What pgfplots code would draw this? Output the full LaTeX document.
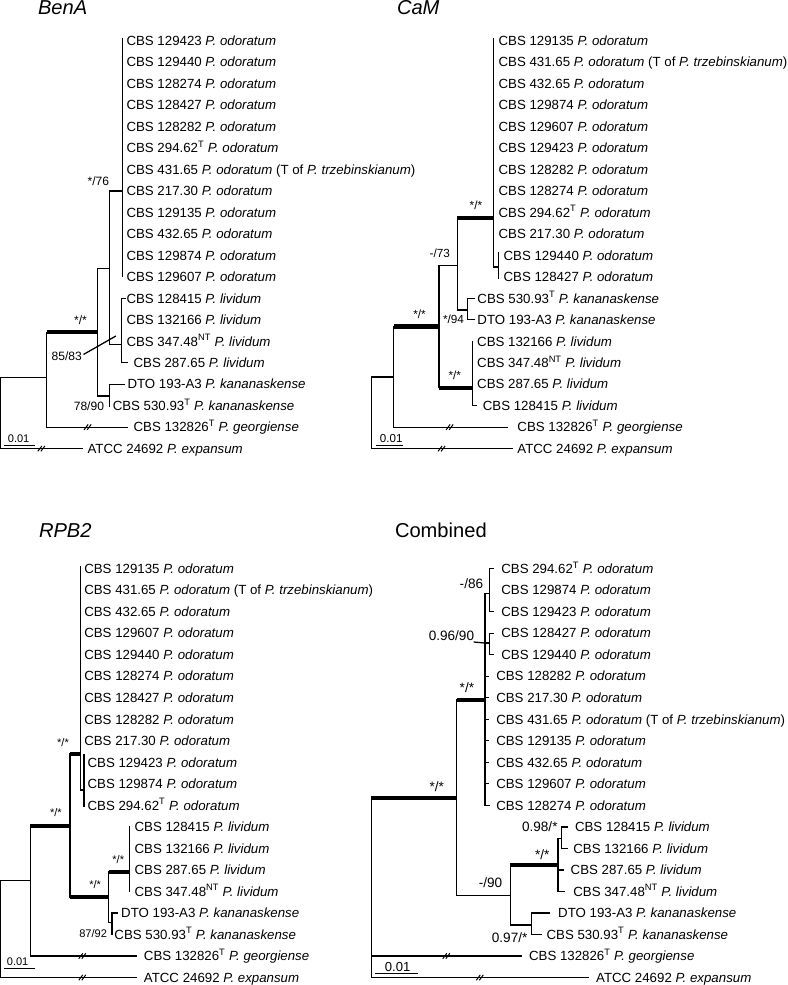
\documentclass[border=0pt]{standalone}
\usepackage{fontspec}
\setmainfont{Liberation Sans}
\usepackage{pgfplots}
\pgfplotsset{compat=1.18}
\newcommand{\tf}{\fontsize{13.2bp}{15bp}\selectfont}
\newcommand{\Pod}{\textit{P. odoratum}}
\newcommand{\Pli}{\textit{P. lividum}}
\newcommand{\Pka}{\textit{P. kananaskense}}
\newcommand{\Pge}{\textit{P. georgiense}}
\newcommand{\Pex}{\textit{P. expansum}}
\newcommand{\Ptr}{(T of \textit{P. trzebinskianum})}
\newcommand{\sT}{\textsuperscript{T}}
\newcommand{\sNT}{\textsuperscript{NT}}
\newcommand{\tx}[3]{\node[anchor=base west,inner sep=0pt,font=\tf] at (axis cs:#1,#2) {#3};}
\newcommand{\lb}[4]{\node[anchor=base east,inner sep=0pt,font=\fontsize{#4}{#4}\selectfont] at (axis cs:#1,#2) {#3};}
\newcommand{\ttl}[3]{\node[anchor=base west,inner sep=0pt,font=\fontsize{20bp}{22bp}\selectfont] at (axis cs:#1,#2) {#3};}
\pgfplotsset{
  br/.style={black, line width=1.25bp, mark=none, unbounded coords=jump, line cap=rect, line join=miter},
  tk/.style={black, line width=4.2bp, mark=none},
  bk/.style={black, line width=1bp, mark=none, unbounded coords=jump},
}
\begin{document}
\begin{tikzpicture}
\begin{axis}[scale only axis, width=786bp, height=985bp,
  xmin=0, xmax=786, ymin=0, ymax=985, y dir=reverse,
  hide axis, clip=false]
%%%%%%%%%%%%%%%% BenA
\ttl{39}{18.5}{\textit{BenA}}
\addplot[br] coordinates {(123.3,43) (123.3,279.85)};
\addplot[br] coordinates {(110,194.45) (123.3,194.45)};
\addplot[br] coordinates {(98.3,271.7) (110,271.7)};
\addplot[br] coordinates {(110,194.45) (110,347.3) (122.3,347.3)};
\addplot[br] coordinates {(126,301.2) (122.3,301.2) (122.3,365.25) (128,365.25)};
\addplot[br] coordinates {(98.3,271.7) (98.3,398.3) (110,398.3)};
\addplot[br] coordinates {(125,386.6) (110,386.6) (110,409)};
\addplot[tk] coordinates {(47.7,335) (98.3,335)};
\addplot[br] coordinates {(47.7,335) (47.7,429.3) (128,429.3)};
\addplot[br] coordinates {(47.7,380) (2,380) (2,450.65) (83,450.65)};
\addplot[br] coordinates {(6,447.5) (36,447.5)};
\addplot[br] coordinates {(85,356.7) (116,339)};
\addplot[bk] coordinates {(85,432) (89,426.6) (nan,nan) (88,432) (92,426.6)};
\addplot[bk] coordinates {(39,453.3) (43,448) (nan,nan) (42,453.3) (46,448)};
\lb{110}{189}{*/76}{12bp}
\lb{88}{327}{*/*}{12bp}
\lb{83}{363.3}{85/83}{12bp}
\lb{105}{412.3}{78/90}{12bp}
\node[anchor=base west,inner sep=0pt,font=\fontsize{11bp}{11bp}\selectfont] at (axis cs:9,445) {0.01};
\tx{127}{49.7}{CBS 129423 \Pod}
\tx{127}{71.1}{CBS 129440 \Pod}
\tx{127}{92.4}{CBS 128274 \Pod}
\tx{127}{113.8}{CBS 128427 \Pod}
\tx{127}{135.1}{CBS 128282 \Pod}
\tx{127}{156.5}{CBS 294.62\sT{} \Pod}
\tx{127}{177.8}{CBS 431.65 \Pod{} \Ptr}
\tx{127}{199.2}{CBS 217.30 \Pod}
\tx{127}{220.5}{CBS 129135 \Pod}
\tx{127}{241.9}{CBS 432.65 \Pod}
\tx{127}{263.2}{CBS 129874 \Pod}
\tx{127}{284.6}{CBS 129607 \Pod}
\tx{127}{305.9}{CBS 128415 \Pli}
\tx{127}{327.3}{CBS 132166 \Pli}
\tx{127}{348.6}{CBS 347.48\sNT{} \Pli}
\tx{134}{370.0}{CBS 287.65 \Pli}
\tx{128}{391.3}{DTO 193-A3 \Pka}
\tx{113.3}{412.7}{CBS 530.93\sT{} \Pka}
\tx{134}{434.0}{CBS 132826\sT{} \Pge}
\tx{88.3}{455.4}{ATCC 24692 \Pex}
%%%%%%%%%%%%%%%% CaM
\ttl{396}{18.5}{\textit{CaM}}
\addplot[br] coordinates {(492,43) (492,270) (497.3,270)};
\addplot[br] coordinates {(497.3,256) (497.3,281.5)};
\addplot[tk] coordinates {(456.3,221.7) (492,221.7)};
\addplot[br] coordinates {(456.3,221.7) (456.3,312.7) (466.3,312.7)};
\addplot[br] coordinates {(473,301.2) (466.3,301.2) (466.3,322.55) (473,322.55)};
\addplot[br] coordinates {(438,268.3) (456.3,268.3)};
\addplot[br] coordinates {(438,268.3) (438,390)};
\addplot[tk] coordinates {(392.7,329.3) (438,329.3)};
\addplot[tk] coordinates {(438,390) (471.3,390)};
\addplot[br] coordinates {(471.3,343.9) (471.3,407.95) (474.7,407.95)};
\addplot[br] coordinates {(392.7,329.3) (392.7,429.3) (506,429.3)};
\addplot[br] coordinates {(392.7,379.3) (370.7,379.3) (370.7,450.65) (511,450.65)};
\addplot[br] coordinates {(376,447.3) (401.7,447.3)};
\addplot[bk] coordinates {(445,432) (449,426.6) (nan,nan) (448,432) (452,426.6)};
\addplot[bk] coordinates {(437,453.3) (441,448) (nan,nan) (440,453.3) (444,448)};
\lb{481}{213}{*/*}{11.7bp}
\lb{449}{260.5}{-/73}{11.7bp}
\lb{425}{321.5}{*/*}{11.7bp}
\lb{463}{326}{*/94}{11.7bp}
\lb{460}{381.5}{*/*}{11.7bp}
\node[anchor=base west,inner sep=0pt,font=\fontsize{11.5bp}{11.5bp}\selectfont] at (axis cs:379,445) {0.01};
\tx{497}{49.7}{CBS 129135 \Pod}
\tx{497}{71.1}{CBS 431.65 \Pod{} \Ptr}
\tx{497}{92.4}{CBS 432.65 \Pod}
\tx{497}{113.8}{CBS 129874 \Pod}
\tx{497}{135.1}{CBS 129607 \Pod}
\tx{497}{156.5}{CBS 129423 \Pod}
\tx{497}{177.8}{CBS 128282 \Pod}
\tx{497}{199.2}{CBS 128274 \Pod}
\tx{497}{220.5}{CBS 294.62\sT{} \Pod}
\tx{497}{241.9}{CBS 217.30 \Pod}
\tx{502}{263.2}{CBS 129440 \Pod}
\tx{502}{284.6}{CBS 128427 \Pod}
\tx{476}{305.9}{CBS 530.93\sT{} \Pka}
\tx{476}{327.3}{DTO 193-A3 \Pka}
\tx{475.7}{348.6}{CBS 132166 \Pli}
\tx{475.7}{370.0}{CBS 347.48\sNT{} \Pli}
\tx{475.7}{391.3}{CBS 287.65 \Pli}
\tx{481.3}{412.7}{CBS 128415 \Pli}
\tx{515.7}{434.0}{CBS 132826\sT{} \Pge}
\tx{515.7}{455.4}{ATCC 24692 \Pex}
%%%%%%%%%%%%%%%% RPB2
\ttl{40}{539}{\textit{RPB2}}
\addplot[br] coordinates {(81.7,568) (81.7,790) (85,790)};
\addplot[br] coordinates {(85,755) (85,806)};
\addplot[tk] coordinates {(71,754) (81.7,754)};
\addplot[br] coordinates {(71,754) (71,896.7)};
\addplot[tk] coordinates {(31.7,825.7) (71,825.7)};
\addplot[tk] coordinates {(71,896.7) (109.3,896.7)};
\addplot[br] coordinates {(109.3,871.7) (109.3,922) (112.7,922)};
\addplot[br] coordinates {(118,912.4) (112.7,912.4) (112.7,933.8)};
\addplot[tk] coordinates {(109.3,871.7) (130,871.7)};
\addplot[br] coordinates {(130,826.8) (130,891)};
\addplot[br] coordinates {(31.7,825.7) (31.7,955.2) (136.7,955.2)};
\addplot[br] coordinates {(31.7,880) (2,880) (2,976.6) (136.7,976.6)};
\addplot[br] coordinates {(6,967.3) (36,967.3)};
\addplot[bk] coordinates {(79.7,957.9) (83.7,952.5) (nan,nan) (82.7,957.9) (86.7,952.5)};
\addplot[bk] coordinates {(79.7,979.3) (83.7,973.9) (nan,nan) (82.7,979.3) (86.7,973.9)};
\lb{70}{746.5}{*/*}{11bp}
\lb{63}{816.5}{*/*}{11bp}
\lb{102}{888}{*/*}{11bp}
\lb{125}{863}{*/*}{11bp}
\lb{108}{937}{87/92}{11bp}
\node[anchor=base west,inner sep=0pt,font=\fontsize{11bp}{11bp}\selectfont] at (axis cs:8,965) {0.01};
\tx{85}{574.7}{CBS 129135 \Pod}
\tx{85}{596.1}{CBS 431.65 \Pod{} \Ptr}
\tx{85}{617.5}{CBS 432.65 \Pod}
\tx{85}{638.9}{CBS 129607 \Pod}
\tx{85}{660.3}{CBS 129440 \Pod}
\tx{85}{681.7}{CBS 128274 \Pod}
\tx{85}{703.1}{CBS 128427 \Pod}
\tx{85}{724.5}{CBS 128282 \Pod}
\tx{85}{745.9}{CBS 217.30 \Pod}
\tx{88.3}{767.3}{CBS 129423 \Pod}
\tx{88.3}{788.7}{CBS 129874 \Pod}
\tx{88.3}{810.1}{CBS 294.62\sT{} \Pod}
\tx{135}{831.5}{CBS 128415 \Pli}
\tx{135}{852.9}{CBS 132166 \Pli}
\tx{135}{874.3}{CBS 287.65 \Pli}
\tx{135}{895.7}{CBS 347.48\sNT{} \Pli}
\tx{121.7}{917.1}{DTO 193-A3 \Pka}
\tx{115}{938.5}{CBS 530.93\sT{} \Pka}
\tx{144.3}{959.9}{CBS 132826\sT{} \Pge}
\tx{144.3}{981.3}{ATCC 24692 \Pex}
%%%%%%%%%%%%%%%% Combined
\ttl{394}{539}{Combined}
\addplot[br] coordinates {(488,595) (483.7,595) (483.7,805.4) (488,805.4)};
\addplot[br] coordinates {(491.5,570) (488,570) (488,612.8) (491.5,612.8)};
\addplot[br] coordinates {(483.7,644) (488,644)};
\addplot[br] coordinates {(491.5,634.2) (488,634.2) (488,655.6) (491.5,655.6)};
\addplot[br] coordinates {(483.7,677) (487.5,677) (nan,nan) (483.7,698.4) (487.5,698.4) (nan,nan) (483.7,719.8) (487.5,719.8) (nan,nan) (483.7,741.2) (487.5,741.2) (nan,nan) (483.7,762.6) (487.5,762.6) (nan,nan) (483.7,784) (487.5,784)};
\addplot[br] coordinates {(473,643) (483.7,644)};
\addplot[tk] coordinates {(455.5,700.7) (483.7,700.7)};
\addplot[br] coordinates {(455.5,700.7) (455.5,895) (509,895)};
\addplot[tk] coordinates {(370.7,798.3) (455.5,798.3)};
\addplot[br] coordinates {(509,865) (509,924.3) (529.7,924.3)};
\addplot[tk] coordinates {(509,865) (556.3,865)};
\addplot[br] coordinates {(559.7,838) (556.3,838) (556.3,891) (563,891)};
\addplot[br] coordinates {(566,826.8) (559.7,826.8) (559.7,848.2) (566,848.2)};
\addplot[br] coordinates {(556.3,869.6) (562,869.6)};
\addplot[br] coordinates {(548,912.4) (529.7,912.4) (529.7,933.8) (539.7,933.8)};
\addplot[br] coordinates {(370.7,798.3) (370.7,976.6) (586.3,976.6)};
\addplot[br] coordinates {(370.7,955.2) (519.7,955.2)};
\addplot[br] coordinates {(375,972.7) (416.7,972.7)};
\addplot[bk] coordinates {(441.7,957.9) (445.7,952.5) (nan,nan) (444.7,957.9) (448.7,952.5)};
\addplot[bk] coordinates {(475,979.3) (479,973.9) (nan,nan) (478,979.3) (482,973.9)};
\lb{482}{590}{-/86}{13.5bp}
\lb{473}{641.5}{0.96/90}{13.5bp}
\lb{473}{693}{*/*}{13.5bp}
\lb{443}{791.5}{*/*}{13.5bp}
\lb{556}{831.5}{0.98/*}{13.5bp}
\lb{548}{859}{*/*}{13.5bp}
\lb{501}{887}{-/90}{13.5bp}
\lb{526}{942}{0.97/*}{13.5bp}
\node[anchor=base west,inner sep=0pt,font=\fontsize{13bp}{13bp}\selectfont] at (axis cs:384,970.5) {0.01};
\tx{499.7}{574.7}{CBS 294.62\sT{} \Pod}
\tx{499.7}{596.1}{CBS 129874 \Pod}
\tx{499.7}{617.5}{CBS 129423 \Pod}
\tx{499.7}{638.9}{CBS 128427 \Pod}
\tx{499.7}{660.3}{CBS 129440 \Pod}
\tx{494.7}{681.7}{CBS 128282 \Pod}
\tx{494.7}{703.1}{CBS 217.30 \Pod}
\tx{494.7}{724.5}{CBS 431.65 \Pod{} \Ptr}
\tx{494.7}{745.9}{CBS 129135 \Pod}
\tx{494.7}{767.3}{CBS 432.65 \Pod}
\tx{494.7}{788.7}{CBS 129607 \Pod}
\tx{494.7}{810.1}{CBS 128274 \Pod}
\tx{573}{831.5}{CBS 128415 \Pli}
\tx{571.3}{852.9}{CBS 132166 \Pli}
\tx{568.7}{874.3}{CBS 287.65 \Pli}
\tx{571.3}{895.7}{CBS 347.48\sNT{} \Pli}
\tx{556.3}{917.1}{DTO 193-A3 \Pka}
\tx{544.7}{938.5}{CBS 530.93\sT{} \Pka}
\tx{527.3}{959.9}{CBS 132826\sT{} \Pge}
\tx{594}{981.3}{ATCC 24692 \Pex}
\end{axis}
\end{tikzpicture}
\end{document}
